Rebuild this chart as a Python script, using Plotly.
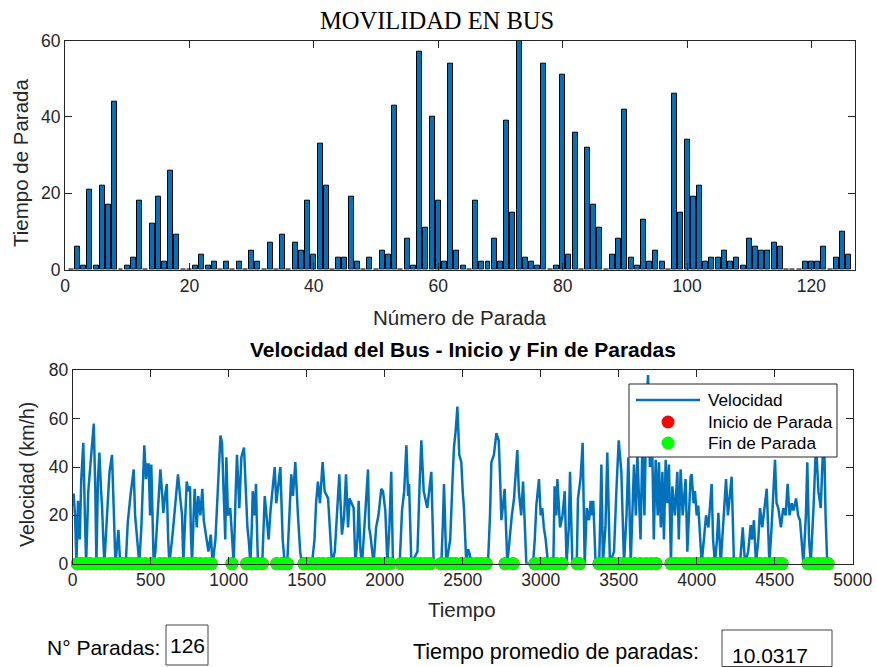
import plotly.graph_objects as go

W, H = 877, 667

# ---------------- data ----------------
numero_parada = list(range(1, 127))
tiempo_parada = [0, 6, 1, 21, 1, 22, 17, 44, 0, 1,
                 3, 18, 0, 12, 19, 2, 26, 9, 0, 0,
                 1, 4, 1, 2, 0, 2, 0, 2, 0, 5,
                 2, 0, 7, 0, 9, 0, 7, 5, 18, 4,
                 33, 22, 0, 3, 3, 19, 2, 0, 3, 0,
                 5, 4, 43, 0, 8, 1, 57, 11, 40, 18,
                 2, 54, 5, 1, 0, 18, 2, 2, 8, 2,
                 39, 15, 60, 3, 2, 1, 54, 0, 1, 51,
                 4, 36, 0, 32, 17, 11, 0, 4, 8, 42,
                 3, 1, 13, 2, 5, 2, 0, 46, 15, 34,
                 19, 22, 2, 3, 3, 5, 2, 3, 1, 8,
                 6, 5, 5, 7, 6, 0, 0, 0, 2, 2,
                 2, 6, 0, 3, 10, 4]

tiempo = [0, 6, 15, 24, 34, 45, 55, 68, 78, 86, 100, 120, 135, 145, 152, 162, 171, 182, 188, 196,
          203, 220, 236, 252, 262, 274, 285, 293, 302, 310, 340, 353, 370, 391, 400, 410, 427, 440, 459, 470,
          480, 487, 496, 504, 512, 519, 530, 545, 562, 572, 581, 592, 603, 612, 620, 640, 660, 675, 688, 701,
          709, 720, 731, 742, 752, 758, 765, 775, 782, 795, 805, 818, 831, 840, 855, 870, 885, 897, 915, 935,
          947, 957, 968, 978, 985, 995, 1010, 1021, 1032, 1045, 1053, 1068, 1081, 1098, 1111, 1120, 1128, 1139, 1148, 1154,
          1165, 1175, 1183, 1188, 1215, 1231, 1245, 1256, 1268, 1278, 1295, 1305, 1318, 1331, 1346, 1359, 1375, 1390, 1401, 1412,
          1427, 1444, 1458, 1470, 1483, 1534, 1550, 1560, 1572, 1585, 1602, 1615, 1637, 1650, 1662, 1680, 1695, 1709, 1726, 1740,
          1752, 1765, 1775, 1801, 1812, 1825, 1833, 1845, 1855, 1870, 1880, 1893, 1900, 1908, 1929, 1945, 1960, 1978, 1989, 2004,
          2017, 2030, 2042, 2053, 2096, 2111, 2125, 2139, 2150, 2156, 2171, 2210, 2225, 2235, 2250, 2273, 2285, 2299, 2314, 2363,
          2372, 2380, 2395, 2420, 2435, 2444, 2455, 2466, 2478, 2491, 2500, 2508, 2523, 2534, 2545, 2555, 2662, 2675, 2684, 2700,
          2716, 2731, 2740, 2748, 2760, 2769, 2786, 2800, 2815, 2829, 2840, 2850, 2860, 2875, 2887, 2900, 2908, 2951, 2962, 2972,
          2989, 3000, 3010, 3020, 3032, 3047, 3081, 3089, 3100, 3107, 3116, 3124, 3140, 3154, 3166, 3180, 3188, 3203, 3231, 3239,
          3255, 3269, 3282, 3295, 3310, 3320, 3330, 3337, 3352, 3375, 3389, 3399, 3415, 3427, 3444, 3470, 3485, 3500, 3517, 3534,
          3550, 3562, 3577, 3598, 3610, 3620, 3640, 3652, 3665, 3676, 3688, 3700, 3716, 3725, 3737, 3750, 3758, 3770, 3780, 3790,
          3801, 3812, 3822, 3835, 3844, 3860, 3876, 3885, 3897, 3910, 3929, 3940, 3961, 3968, 3980, 3989, 4000, 4010, 4032, 4045,
          4060, 4075, 4096, 4105, 4117, 4130, 4139, 4154, 4170, 4188, 4200, 4215, 4224, 4239, 4278, 4295, 4310, 4330, 4346, 4355,
          4367, 4380, 4395, 4406, 4420, 4449, 4466, 4480, 4502, 4512, 4523, 4540, 4555, 4570, 4583, 4595, 4609, 4620, 4637, 4650,
          4662, 4672, 4684, 4700, 4709, 4720, 4731, 4750, 4765, 4780, 4795, 4805, 4816, 4826, 4837, 4850]

velocidad = [24, 29, 20, 0, 26, 10, 35, 50, 20, 0, 30, 45, 58, 30, 0, 35, 46, 30, 24, 10,
             0, 20, 38, 45, 25, 0, 8, 14, 3, 0, 0, 17, 28, 39, 20, 11, 0, 15, 49, 35,
             41, 41, 20, 41, 10, 0, 5, 20, 39, 30, 21, 28, 33, 10, 0, 12, 25, 37, 28, 20,
             0, 15, 34, 30, 32, 12, 0, 20, 31, 15, 28, 20, 31, 18, 11, 5, 12, 0, 10, 40,
             53, 50, 23, 10, 44, 20, 23, 10, 0, 30, 45, 23, 44, 48, 27, 15, 10, 0, 15, 30,
             20, 33, 10, 0, 0, 28, 18, 10, 22, 30, 40, 25, 33, 40, 10, 0, 0, 25, 37, 28,
             42, 20, 5, 0, 0, 0, 10, 25, 34, 25, 42, 30, 27, 10, 0, 5, 20, 37, 12, 20,
             37, 15, 27, 23, 0, 10, 26, 5, 0, 15, 25, 39, 15, 12, 0, 15, 20, 31, 30, 22,
             0, 15, 38, 0, 0, 22, 30, 49, 28, 33, 0, 5, 35, 51, 30, 23, 30, 38, 0, 0,
             15, 33, 0, 10, 35, 48, 55, 65, 45, 42, 30, 23, 0, 6, 4, 0, 0, 20, 42, 45,
             54, 51, 35, 18, 25, 31, 0, 10, 20, 27, 38, 47, 30, 20, 34, 15, 0, 0, 10, 24,
             35, 20, 23, 15, 10, 0, 0, 32, 20, 35, 25, 15, 20, 30, 0, 15, 38, 0, 0, 27,
             35, 50, 0, 23, 18, 26, 20, 26, 0, 0, 41, 0, 15, 46, 0, 5, 30, 51, 38, 0,
             20, 44, 0, 41, 20, 45, 10, 50, 20, 60, 78, 40, 44, 10, 43, 20, 42, 15, 38, 10,
             43, 25, 41, 0, 32, 20, 38, 10, 39, 20, 35, 5, 36, 37, 25, 30, 20, 24, 0, 10,
             20, 15, 33, 10, 0, 10, 21, 0, 15, 35, 20, 30, 36, 0, 0, 15, 0, 5, 16, 10,
             18, 0, 10, 23, 15, 31, 0, 15, 43, 25, 23, 15, 23, 20, 33, 20, 25, 22, 27, 20,
             18, 10, 0, 20, 42, 10, 0, 25, 50, 30, 23, 40, 55, 20, 0, 0]

fin_parada = [30, 58, 88, 112, 150, 178, 205, 240, 268, 300, 322, 355, 380, 410, 432, 468, 505, 520, 560, 590,
              622, 650, 680, 705, 738, 768, 790, 820, 855, 888,
              1021,
              1115, 1148, 1183, 1215,
              1308, 1343, 1375,
              1483, 1512, 1540, 1575, 1605, 1640, 1665, 1700, 1730, 1760, 1790, 1815, 1840, 1870, 1900, 1935, 1965, 2000, 2035,
              2105, 2135, 2170, 2200, 2230, 2262, 2291,
              2361, 2392, 2425, 2455, 2490, 2525, 2555, 2590, 2620, 2650,
              2772, 2823,
              2963, 2998, 3030, 3068, 3100, 3137,
              3233, 3248,
              3374, 3405, 3440, 3470, 3505, 3535, 3570, 3605, 3640, 3675, 3710, 3739,
              3835, 3865, 3895, 3925, 3955, 3985, 4015, 4045, 4075, 4105, 4135, 4165, 4195, 4225, 4255, 4285, 4315,
              4345, 4375, 4405, 4440, 4470, 4500, 4525, 4547,
              4714, 4745, 4778, 4810, 4842]
inicio_parada = list(fin_parada)

n_paradas = 126
promedio = 10.0317

serie_nombres = ["Velocidad", "Inicio de Parada", "Fin de Parada"]
top_xticks = [0, 20, 40, 60, 80, 100, 120]
top_yticks = [0, 20, 40, 60]
bot_xticks = [0, 500, 1000, 1500, 2000, 2500, 3000, 3500, 4000, 4500, 5000]
bot_yticks = [0, 20, 40, 60, 80]

# ---------------- figure ----------------
BLUE = "#0072BD"
RED = "#FF0000"
GREEN = "#00FF00"
AX = "#262626"
FONT = "Liberation Sans, Arial, sans-serif"


def px_x(p):
    return p / W


def px_y(p):
    return 1 - p / H


fig = go.Figure()

fig.add_trace(go.Bar(x=numero_parada, y=tiempo_parada, width=0.8,
                     marker=dict(color=BLUE, line=dict(color="black", width=1)),
                     showlegend=False, xaxis="x", yaxis="y"))

fig.add_trace(go.Scatter(x=tiempo, y=velocidad, mode="lines", name=serie_nombres[0],
                         line=dict(color=BLUE, width=2.5), showlegend=False, xaxis="x2", yaxis="y2"))
fig.add_trace(go.Scatter(x=inicio_parada, y=[0] * len(inicio_parada), mode="markers",
                         name=serie_nombres[1], marker=dict(color=RED, size=13),
                         cliponaxis=False, showlegend=False, xaxis="x2", yaxis="y2"))
fig.add_trace(go.Scatter(x=fin_parada, y=[0] * len(fin_parada), mode="markers",
                         name=serie_nombres[2], marker=dict(color=GREEN, size=13),
                         cliponaxis=False, showlegend=False, xaxis="x2", yaxis="y2"))

axis_common = dict(showline=True, linecolor=AX, linewidth=1, mirror="ticks",
                   ticks="inside", ticklen=7, tickcolor=AX, showgrid=False, zeroline=False,
                   automargin=False,
                   tickfont=dict(family=FONT, size=17.5, color=AX))

fig.update_layout(
    width=W, height=H, autosize=False,
    margin=dict(l=0, r=0, t=0, b=0, pad=0, autoexpand=False),
    paper_bgcolor="white", plot_bgcolor="white",
    bargap=0,
    xaxis=dict(domain=[px_x(65), px_x(855)], range=[0, 127], tickvals=top_xticks,
               anchor="y", **axis_common),
    yaxis=dict(domain=[px_y(269.5), px_y(40.7)], range=[0, 60], tickvals=top_yticks,
               anchor="x", **axis_common),
    xaxis2=dict(domain=[px_x(72.7), px_x(852.7)], range=[0, 5000], tickvals=bot_xticks,
                anchor="y2", **axis_common),
    yaxis2=dict(domain=[px_y(563.7), px_y(370.3)], range=[0, 80], tickvals=bot_yticks,
                anchor="x2", **axis_common),
    showlegend=False,
)

ann = []


def text(x, y, s, size=17, family=FONT, angle=0, bold=False, color=AX, xanchor="center"):
    ann.append(dict(x=px_x(x), y=px_y(y), xref="paper", yref="paper", text=("<b>%s</b>" % s) if bold else s,
                    showarrow=False, textangle=angle, xanchor=xanchor, yanchor="middle",
                    font=dict(family=family, size=size, color=color)))


text(437, 20, "MOVILIDAD EN BUS", size=24.5, family="Liberation Serif, Times New Roman, serif", color="black")
text(20, 163, "Tiempo de Parada", size=20.5, angle=-90)
text(460, 318, "Número de Parada", size=20.5)
text(463, 350, "Velocidad del Bus - Inicio y Fin de Paradas", size=21, bold=True, color="black")
text(27, 475, "Velocidad (km/h)", size=19.5, angle=-90)
text(462, 609, "Tiempo", size=20.5)
text(45, 647, "N° Paradas:", size=21, color="black", xanchor="left")
text(187, 645, str(n_paradas), size=21, color="black")
text(411, 652, "Tiempo promedio de paradas:", size=21.5, color="black", xanchor="left")
text(770, 655, "%.4f" % promedio, size=21, color="black")

# legend (drawn by hand to match the MATLAB layout)
leg_rows = [400, 422, 443]
for nm, yy in zip(serie_nombres, leg_rows):
    text(706, yy, nm, size=17.2, color="black", xanchor="left")

fig.update_layout(annotations=ann)

shapes = [
    dict(type="rect", xref="paper", yref="paper", x0=px_x(166), x1=px_x(208), y0=px_y(665), y1=px_y(625),
         line=dict(color="#444444", width=1)),
    dict(type="rect", xref="paper", yref="paper", x0=px_x(722), x1=px_x(832), y0=px_y(666.5), y1=px_y(630),
         line=dict(color="#444444", width=1)),
    dict(type="rect", xref="paper", yref="paper", x0=px_x(629), x1=px_x(837), y0=px_y(457), y1=px_y(384),
         line=dict(color=AX, width=1), fillcolor="white", layer="above"),
    dict(type="line", xref="paper", yref="paper", x0=px_x(636), x1=px_x(700), y0=px_y(leg_rows[0]),
         y1=px_y(leg_rows[0]), line=dict(color=BLUE, width=2.5)),
]
for col, yy in ((RED, leg_rows[1]), (GREEN, leg_rows[2])):
    shapes.append(dict(type="circle", xref="paper", yref="paper", x0=px_x(661.5), x1=px_x(674.5),
                       y0=px_y(yy + 6.5), y1=px_y(yy - 6.5), line=dict(width=0), fillcolor=col))
fig.update_layout(shapes=shapes)

fig.write_html("out.html")
